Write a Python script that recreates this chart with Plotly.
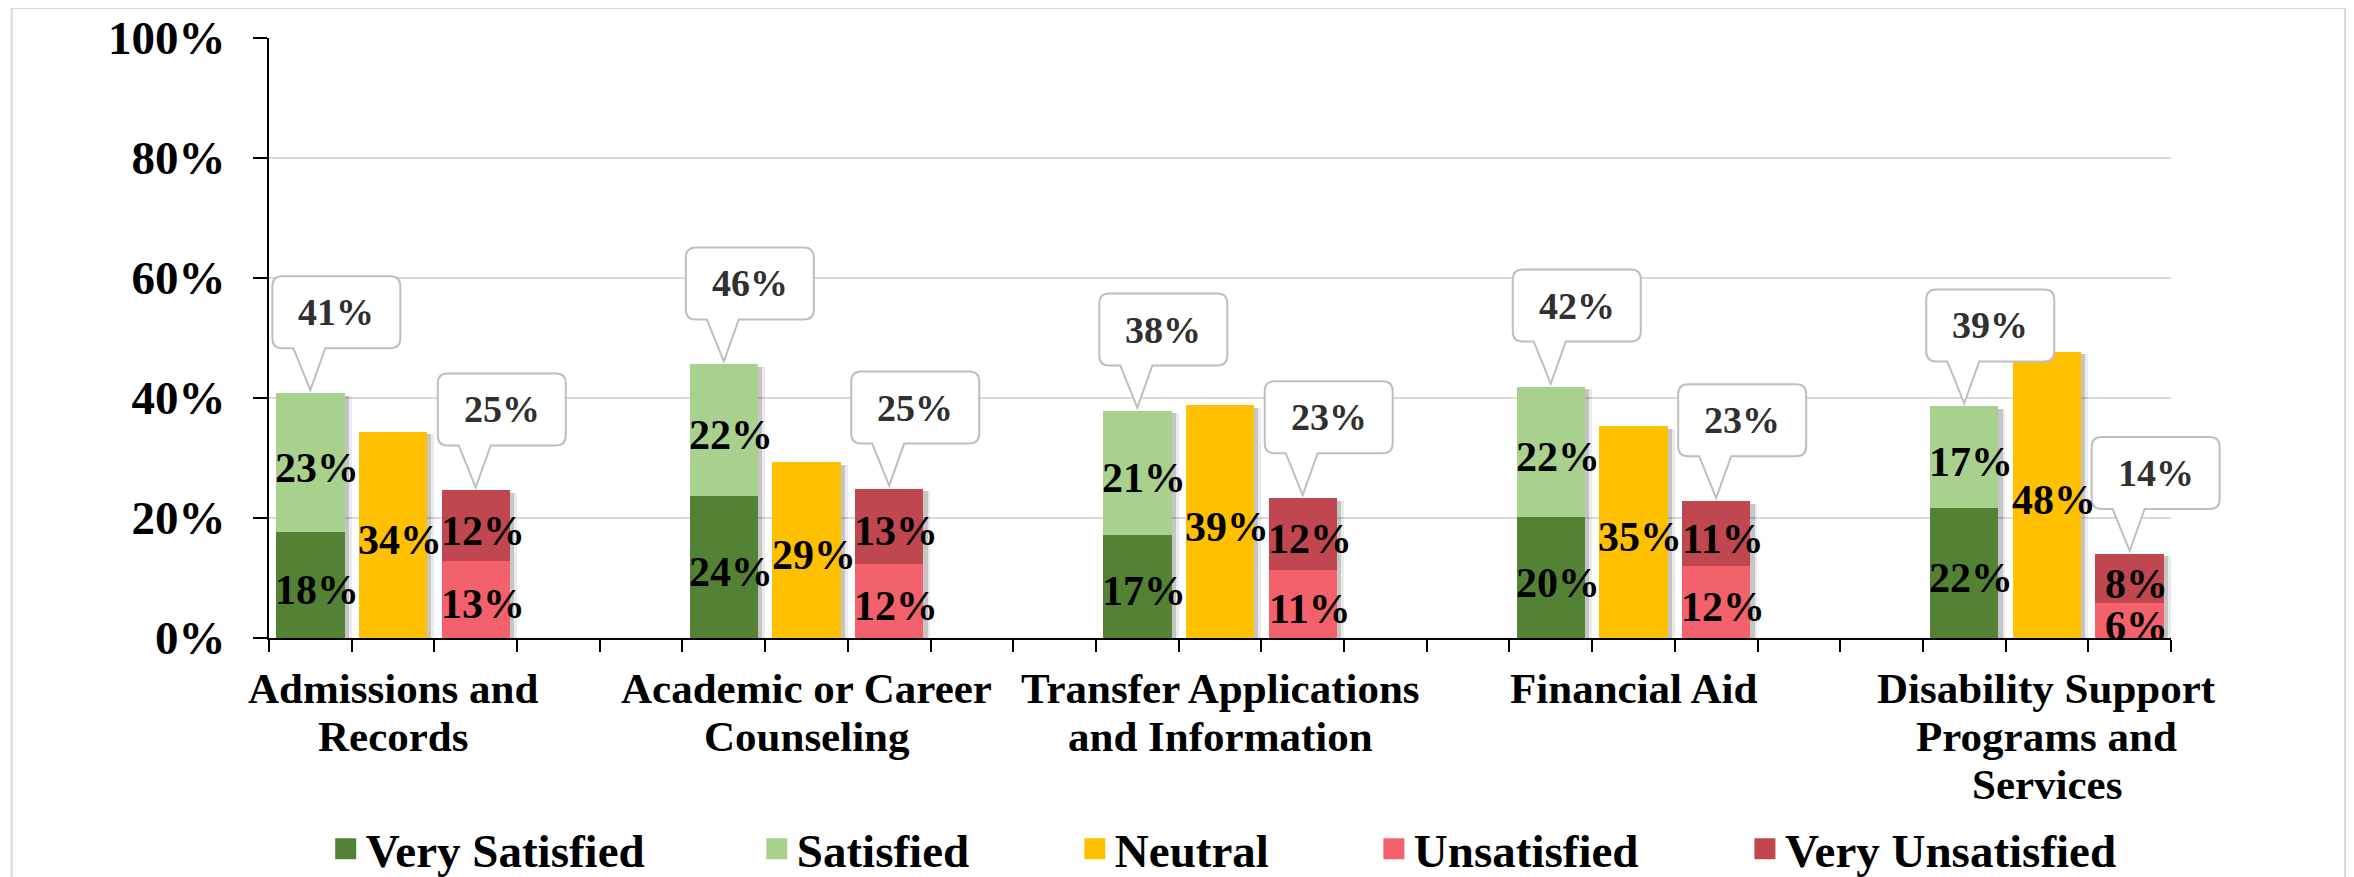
import plotly.graph_objects as go

# ---------------- data ----------------
categories = ["Admissions and Records", "Academic or Career Counseling",
              "Transfer Applications and Information", "Financial Aid",
              "Disability Support Programs and Services"]
category_lines = [["Admissions and", "Records"], ["Academic or Career", "Counseling"],
                  ["Transfer Applications", "and Information"], ["Financial Aid"],
                  ["Disability Support", "Programs and", "Services"]]
very_satisfied = [0.176, 0.237, 0.172, 0.201, 0.217]
satisfied = [0.232, 0.219, 0.207, 0.218, 0.169]
neutral = [0.344, 0.293, 0.388, 0.353, 0.477]
unsatisfied = [0.129, 0.123, 0.114, 0.120, 0.058]
very_unsatisfied = [0.117, 0.126, 0.119, 0.108, 0.082]
y_tick_values = [0, 0.2, 0.4, 0.6, 0.8, 1.0]
series_names = ["Very Satisfied", "Satisfied", "Neutral", "Unsatisfied", "Very Unsatisfied"]

# ---------------- style ----------------
FONT = "Liberation Serif"
COLORS = {"Very Satisfied": "#548235", "Satisfied": "#A9D18E", "Neutral": "#FFC000",
          "Unsatisfied": "#F2616C", "Very Unsatisfied": "#C0474F"}
BAR_W = 0.827
STRIDE = 5
PAGE_OFFSET = 8                     # default <body> margin of the html page
FIG_W, FIG_H = 2354 - PAGE_OFFSET, 877 - PAGE_OFFSET
PLOT_L, PLOT_T, PLOT_W, PLOT_H = 269.3 - PAGE_OFFSET, 37.7 - PAGE_OFFSET, 1901.7, 600.7

n = len(categories)
x_sat = [STRIDE * i for i in range(n)]
x_neu = [STRIDE * i + 1 for i in range(n)]
x_uns = [STRIDE * i + 2 for i in range(n)]
tot_sat = [a + b for a, b in zip(very_satisfied, satisfied)]
tot_uns = [a + b for a, b in zip(unsatisfied, very_unsatisfied)]
X_MIN, X_MAX = -0.5, STRIDE * n - 2 - 0.5


def pct(v):
    return f"{round(v * 100)}%"


fig = go.Figure()

# soft shadows (Excel-like outer shadow)
for xs, tops in ((x_sat, tot_sat), (x_neu, neutral), (x_uns, tot_uns)):
    for off, alpha in ((0.085, 0.08), (0.05, 0.16)):
        fig.add_trace(go.Bar(x=xs, y=[t - 0.004 for t in tops], width=BAR_W,
                             offset=-BAR_W / 2 + off,
                             marker=dict(color=f"rgba(0,0,0,{alpha})", line=dict(width=0)),
                             showlegend=False, hoverinfo="skip"))

bar_specs = [
    ("Very Satisfied", x_sat, very_satisfied, [0] * n),
    ("Satisfied", x_sat, satisfied, very_satisfied),
    ("Neutral", x_neu, neutral, [0] * n),
    ("Unsatisfied", x_uns, unsatisfied, [0] * n),
    ("Very Unsatisfied", x_uns, very_unsatisfied, unsatisfied),
]
annotations = []
for name, xs, vals, base in bar_specs:
    fig.add_trace(go.Bar(x=xs, y=vals, base=base, width=BAR_W, name=name,
                         marker=dict(color=COLORS[name], line=dict(width=0)),
                         showlegend=False))
    for xv, v, b in zip(xs, vals, base):
        annotations.append(dict(x=xv, y=b + v / 2, xref="x", yref="y", text=pct(v),
                                showarrow=False, xshift=7, yshift=-5,
                                font=dict(family=FONT, size=42, color="black", weight="bold")))

# category labels (one text line each, tight Excel-like line spacing)
for i, lines in enumerate(category_lines):
    for j, line in enumerate(lines):
        annotations.append(dict(x=STRIDE * i + 1, y=0, xref="x", yref="paper", text=line,
                                showarrow=False, yanchor="middle", yshift=-(50 + 48 * j),
                                font=dict(family=FONT, size=43, color="black", weight="bold")))

# legend entries (one legend box per entry, laid out like the original)
legend_px = [326, 757, 1075, 1374, 1745]
legend_layouts = {}
for k, name in enumerate(series_names):
    lid = "legend" if k == 0 else f"legend{k + 1}"
    c = COLORS[name]
    fig.add_trace(go.Scatter(x=[None], y=[None], mode="markers", name=name, legend=lid,
                             marker=dict(symbol="square", size=16, color=c, line=dict(color=c, width=5)),
                             showlegend=True, hoverinfo="skip"))
    legend_layouts[lid] = dict(x=(legend_px[k] - 269.3) / PLOT_W, y=-0.352, xanchor="left",
                               yanchor="middle", orientation="h", bgcolor="rgba(0,0,0,0)",
                               font=dict(family=FONT, size=47, color="black", weight="bold"))

# callouts with totals
BOX_L, BOX_R, BOX_B, BOX_H, RAD, PTR_L, PTR_R, TIP = -38, 90, 45, 72, 10, -17, 15, 3
BOX_T = BOX_B + BOX_H
callout_path = (f"M {PTR_L},{BOX_B} L 0,{TIP} L {PTR_R},{BOX_B} L {BOX_R - RAD},{BOX_B} "
                f"Q {BOX_R},{BOX_B} {BOX_R},{BOX_B + RAD} L {BOX_R},{BOX_T - RAD} "
                f"Q {BOX_R},{BOX_T} {BOX_R - RAD},{BOX_T} L {BOX_L + RAD},{BOX_T} "
                f"Q {BOX_L},{BOX_T} {BOX_L},{BOX_T - RAD} L {BOX_L},{BOX_B + RAD} "
                f"Q {BOX_L},{BOX_B} {BOX_L + RAD},{BOX_B} Z")
shapes = []
for xs, tops in ((x_sat, tot_sat), (x_uns, tot_uns)):
    for xv, t in zip(xs, tops):
        # x anchored in paper fraction so the callout is not clipped at the plot edge
        shapes.append(dict(type="path", xref="paper", yref="y", xsizemode="pixel", ysizemode="pixel",
                           xanchor=(xv - X_MIN) / (X_MAX - X_MIN), yanchor=t, path=callout_path,
                           fillcolor="white", line=dict(color="#BFBFBF", width=2), layer="above"))
        annotations.append(dict(x=xv, y=t, xref="x", yref="y", text=pct(t), showarrow=False,
                                xshift=(BOX_L + BOX_R) / 2, yshift=(BOX_B + BOX_T) / 2,
                                font=dict(family=FONT, size=38, color="#303030", weight="bold")))

# outer chart-area border
shapes.append(dict(type="rect", xref="paper", yref="paper", x0=-0.1353, x1=1.0915, y0=-0.45, y1=1.05,
                   line=dict(color="#D9D9D9", width=2), fillcolor="rgba(0,0,0,0)", layer="below"))

fig.update_layout(
    width=FIG_W, height=FIG_H,
    margin=dict(l=PLOT_L, r=FIG_W - PLOT_L - PLOT_W, t=PLOT_T, b=FIG_H - PLOT_T - PLOT_H,
                pad=0, autoexpand=False),
    paper_bgcolor="white", plot_bgcolor="white",
    barmode="overlay", bargap=0,
    shapes=shapes, annotations=annotations,
    **legend_layouts,
)
fig.update_xaxes(range=[X_MIN, X_MAX], showticklabels=False,
                 ticks="", showgrid=False, zeroline=False, automargin=False,
                 showline=True, linecolor="black", linewidth=2,
                 minor=dict(tickmode="linear", tick0=-0.5, dtick=1, ticks="outside",
                            ticklen=12, tickwidth=1.5, tickcolor="black", showgrid=False))
fig.update_yaxes(range=[0, 1], tickmode="array", tickvals=y_tick_values, tickformat=".0%",
                 ticks="outside", ticklen=14, tickwidth=1.5, tickcolor="black", automargin=False,
                 showline=True, linecolor="black", linewidth=2,
                 showgrid=True, gridcolor="#D9D9D9", gridwidth=1.5, zeroline=False,
                 tickfont=dict(family=FONT, size=47, color="black", weight="bold"),
                 ticklabelstandoff=18)

fig.write_html("out.html")
